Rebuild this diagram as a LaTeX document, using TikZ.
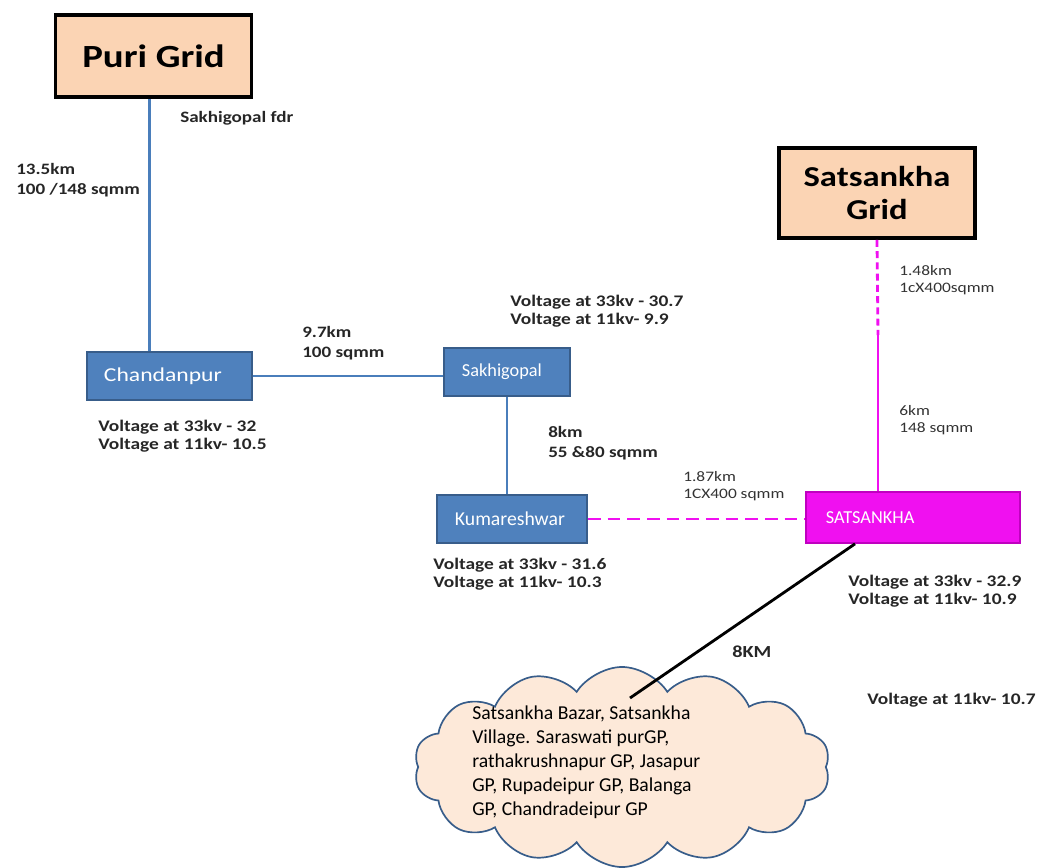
\documentclass[tikz,border=0pt]{standalone}
\usepackage{fontspec}
\setmainfont{Carlito}[FakeStretch=1.2]
\newfontfamily\plainfont{Carlito}
\usetikzlibrary{shapes,positioning}
\definecolor{peach}{HTML}{FBD4B4}
\definecolor{cloudfill}{HTML}{FDE9D9}
\definecolor{stnblue}{HTML}{4F81BD}
\definecolor{stnedge}{HTML}{385D8A}
\definecolor{lineblue}{HTML}{4A7EBB}
\definecolor{mag}{HTML}{F010F0}
\definecolor{magedge}{HTML}{C000C0}
\tikzstyle{gridbox} = [draw=black, line width=2.6pt, fill=peach, align=center, font=\bfseries\fontsize{23}{25}\selectfont]
\tikzstyle{station} = [draw=stnedge, line width=1.2pt, fill=stnblue, text=white, align=left, minimum height=1.2cm, font=\plainfont\fontsize{13}{15}\selectfont]
\tikzstyle{legend} = [text=black!85, align=left, anchor=west, inner sep=0pt, font=\bfseries\fontsize{11.3}{14.2}\selectfont]
\tikzstyle{volts} = [legend, font=\bfseries\fontsize{11.5}{13.2}\selectfont]
\tikzstyle{tiny} = [legend, text=black!80, font=\fontsize{10.3}{12}\selectfont]
\tikzstyle{feeder} = [lineblue, line width=2pt]
\tikzstyle{cable} = [mag, line width=2pt]

\begin{document}
\begin{tikzpicture}[x=0.025cm, y=-0.025cm]
  \useasboundingbox (0,0) rectangle (1040,868);

  % grids
  \node[gridbox, minimum width=4.9cm, minimum height=2.05cm] (puri) at (153.5,56) {Puri Grid};
  \node[gridbox, minimum width=4.9cm, minimum height=2.25cm, font=\bfseries\fontsize{20.5}{24}\selectfont] (sgrid) at (877,193) {Satsankha\\Grid};

  % substations
  \node[station, text width=3.275cm, inner xsep=0.425cm, font=\fontsize{14}{16}\selectfont] (chand) at (169.5,376) {Chandanpur};
  \node[station, text width=2.25cm, inner xsep=0.45cm] (sakhi) at (507,372) {Sakhigopal};
  \node[station, text width=2.85cm, inner xsep=0.45cm, font=\plainfont\fontsize{14}{16}\selectfont] (kumar) at (512,519) {Kumareshwar};
  \node[station, fill=mag, draw=magedge, text width=4.35cm, inner xsep=0.5cm, minimum height=1.275cm] (sats) at (913,517.5) {SATSANKHA};

  % area fed
  \node[cloud, cloud puffs=14, cloud puff arc=115, aspect=2.1, draw=stnedge, line width=1.2pt, fill=cloudfill, minimum width=10.4cm, minimum height=5cm] (cloud) at (622,767) {};
  \node[anchor=north west, align=left, inner sep=0pt, font=\plainfont\fontsize{14}{17}\selectfont] (places) at (472,706) {Satsankha Bazar, Satsankha\\Village. Saraswati purGP,\\rathakrushnapur GP, Jasapur\\GP, Rupadeipur GP, Balanga\\GP, Chandradeipur GP};
  \coordinate (feed) at (630,698);
  \coordinate (split) at (878,335);

  % lines
  \draw[feeder] ([xshift=-0.09cm]puri.south) -- ([xshift=-0.09cm]puri.south |- chand.north);
  \draw[feeder] (chand.east) -- (chand.east -| sakhi.west);
  \draw[feeder] (sakhi.south) -- (sakhi.south |- kumar.north);
  \draw[cable, dash pattern=on 9pt off 5pt] (kumar.east) -- (kumar.east -| sats.west);
  \draw[cable, dash pattern=on 5pt off 3pt] (sgrid.south) -- (split);
  \draw[cable] (split) -- (split |- sats.north);
  \draw[black, line width=2pt] ([xshift=-1.45cm]sats.south) -- (feed);

  % labels
  \node[legend] (fdr) at (180,118) {Sakhigopal fdr};
  \node[legend] (l1) at (16,180) {13.5km\\100 /148 sqmm};
  \node[legend] (l2) at (302,343) {9.7km\\100 sqmm};
  \node[legend] (l3) at (548,443) {8km\\55 \&80 sqmm};
  \node[tiny] (l4) at (683,486) {1.87km\\1CX400 sqmm};
  \node[tiny] (l5) at (899,280) {1.48km\\1cX400sqmm};
  \node[tiny] (l6) at (899,420) {6km\\148 sqmm};
  \node[volts] (v1) at (98,436) {Voltage at 33kv - 32\\Voltage at 11kv- 10.5};
  \node[volts] (v2) at (510,311) {Voltage at 33kv - 30.7\\Voltage at 11kv- 9.9};
  \node[volts] (v3) at (433,574) {Voltage at 33kv - 31.6\\Voltage at 11kv- 10.3};
  \node[volts] (v4) at (848,591) {Voltage at 33kv - 32.9\\Voltage at 11kv- 10.9};
  \node[volts] (v5) at (867,700) {Voltage at 11kv- 10.7};
  \node[legend, font=\bfseries\fontsize{12}{14}\selectfont] (km) at (732,652) {8KM};
\end{tikzpicture}
\end{document}
